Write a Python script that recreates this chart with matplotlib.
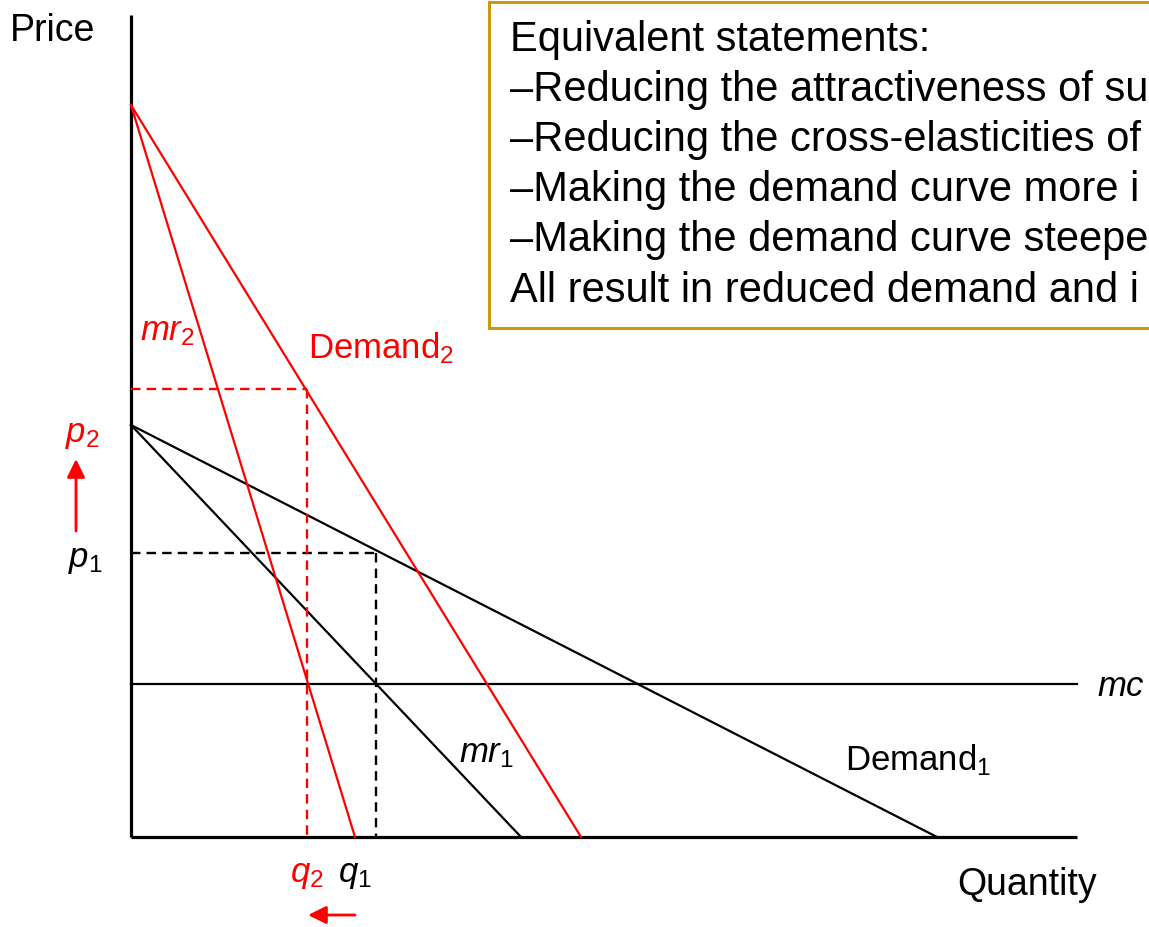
import numpy as np
import matplotlib.pyplot as plt
from matplotlib.patches import Rectangle, FancyArrowPatch

# values (origin at the axis corner, y upwards)
demand1 = {"p0": 412, "q0": 806}
demand2 = {"p0": 732, "q0": 450}
mr1_q0 = 390
mr2_q0 = 224
mc_level = 153
q_axis_end = 946
p_axis_end = 822
q1, p1 = 245, 284
q2, p2 = 176, 448

box_lines = [
    "Equivalent statements:",
    "\u2013Reducing the attractiveness of su",
    "\u2013Reducing the cross-elasticities of",
    "\u2013Making the demand curve more i",
    "\u2013Making the demand curve steepe",
    "All result in reduced demand and i",
]

RED = "#FF0000"
GOLD = "#C99A0E"

plt.rcParams["font.family"] = ["Liberation Sans", "DejaVu Sans"]
plt.rcParams["mathtext.fontset"] = "custom"
plt.rcParams["mathtext.rm"] = "Liberation Sans"
plt.rcParams["mathtext.it"] = "Liberation Sans:italic"

fig = plt.figure(figsize=(11.49, 9.27), dpi=100)
ax = fig.add_axes([0, 0, 1, 1])
ax.set_xlim(-131, 1018)
ax.set_ylim(-90, 837)
ax.axis("off")

# axes
ax.plot([0, 0], [0, p_axis_end], color="black", lw=2.3, solid_capstyle="butt")
ax.plot([0, q_axis_end], [0, 0], color="black", lw=2.3, solid_capstyle="butt")

# marginal cost
ax.plot([0, q_axis_end], [mc_level, mc_level], color="black", lw=1.6)

# original demand and mr
ax.plot([0, demand1["q0"]], [demand1["p0"], 0], color="black", lw=1.6)
ax.plot([0, mr1_q0], [demand1["p0"], 0], color="black", lw=1.6)

# new demand and mr
ax.plot([0, demand2["q0"]], [demand2["p0"], 0], color=RED, lw=1.6)
ax.plot([0, mr2_q0], [demand2["p0"], 0], color=RED, lw=1.6)

# dashed guides
dash = (0, (4, 2.6))
ax.plot([0, q1], [p1, p1], color="black", lw=1.7, linestyle=dash)
ax.plot([q1, q1], [p1, 0], color="black", lw=1.7, linestyle=dash)
ax.plot([0, q2], [p2, p2], color=RED, lw=1.7, linestyle=dash)
ax.plot([q2, q2], [p2, 0], color=RED, lw=1.7, linestyle=dash)

# arrows
arrow_style = "-|>,head_length=0.55,head_width=0.27"
ax.add_patch(FancyArrowPatch((-55, 306), (-55, 378), arrowstyle=arrow_style,
                             color=RED, lw=2, mutation_scale=20,
                             shrinkA=0, shrinkB=0))
ax.add_patch(FancyArrowPatch((224, -78), (177, -78), arrowstyle=arrow_style,
                             color=RED, lw=2, mutation_scale=20,
                             shrinkA=0, shrinkB=0))

# labels
fs = 25
ax.text(-121, 796, "Price", fontsize=27, ha="left", va="baseline")
ax.text(826, -58, "Quantity", fontsize=27, ha="left", va="baseline")
ax.text(-66, 395, r"$p_2$", fontsize=fs, color=RED, ha="left", va="baseline")
ax.text(-63, 270, r"$p_1$", fontsize=fs, color="black", ha="left", va="baseline")
ax.text(159, -45, r"$q_2$", fontsize=fs, color=RED, ha="left", va="baseline")
ax.text(207, -45, r"$q_1$", fontsize=fs, color="black", ha="left", va="baseline")
ax.text(966, 141, r"$mc$", fontsize=fs, color="black", ha="left", va="baseline")
ax.text(328, 75, r"$mr_1$", fontsize=fs, color="black", ha="left", va="baseline")
ax.text(9, 497, r"$mr_2$", fontsize=fs, color=RED, ha="left", va="baseline")
ax.text(714, 67, r"Demand$_1$", fontsize=fs, color="black", ha="left", va="baseline")
ax.text(177, 479, r"Demand$_2$", fontsize=fs, color=RED, ha="left", va="baseline")

# text box
ax.add_patch(Rectangle((358, 509), 700, 326, facecolor="white", edgecolor=GOLD,
                       lw=2.2, clip_on=False, zorder=3))
baselines = [786, 736, 686, 636, 586, 535]
for line, yb in zip(box_lines, baselines):
    ax.text(379, yb, line, fontsize=30, ha="left", va="baseline", zorder=4)

fig.savefig("out.png", dpi=100, facecolor="white")
